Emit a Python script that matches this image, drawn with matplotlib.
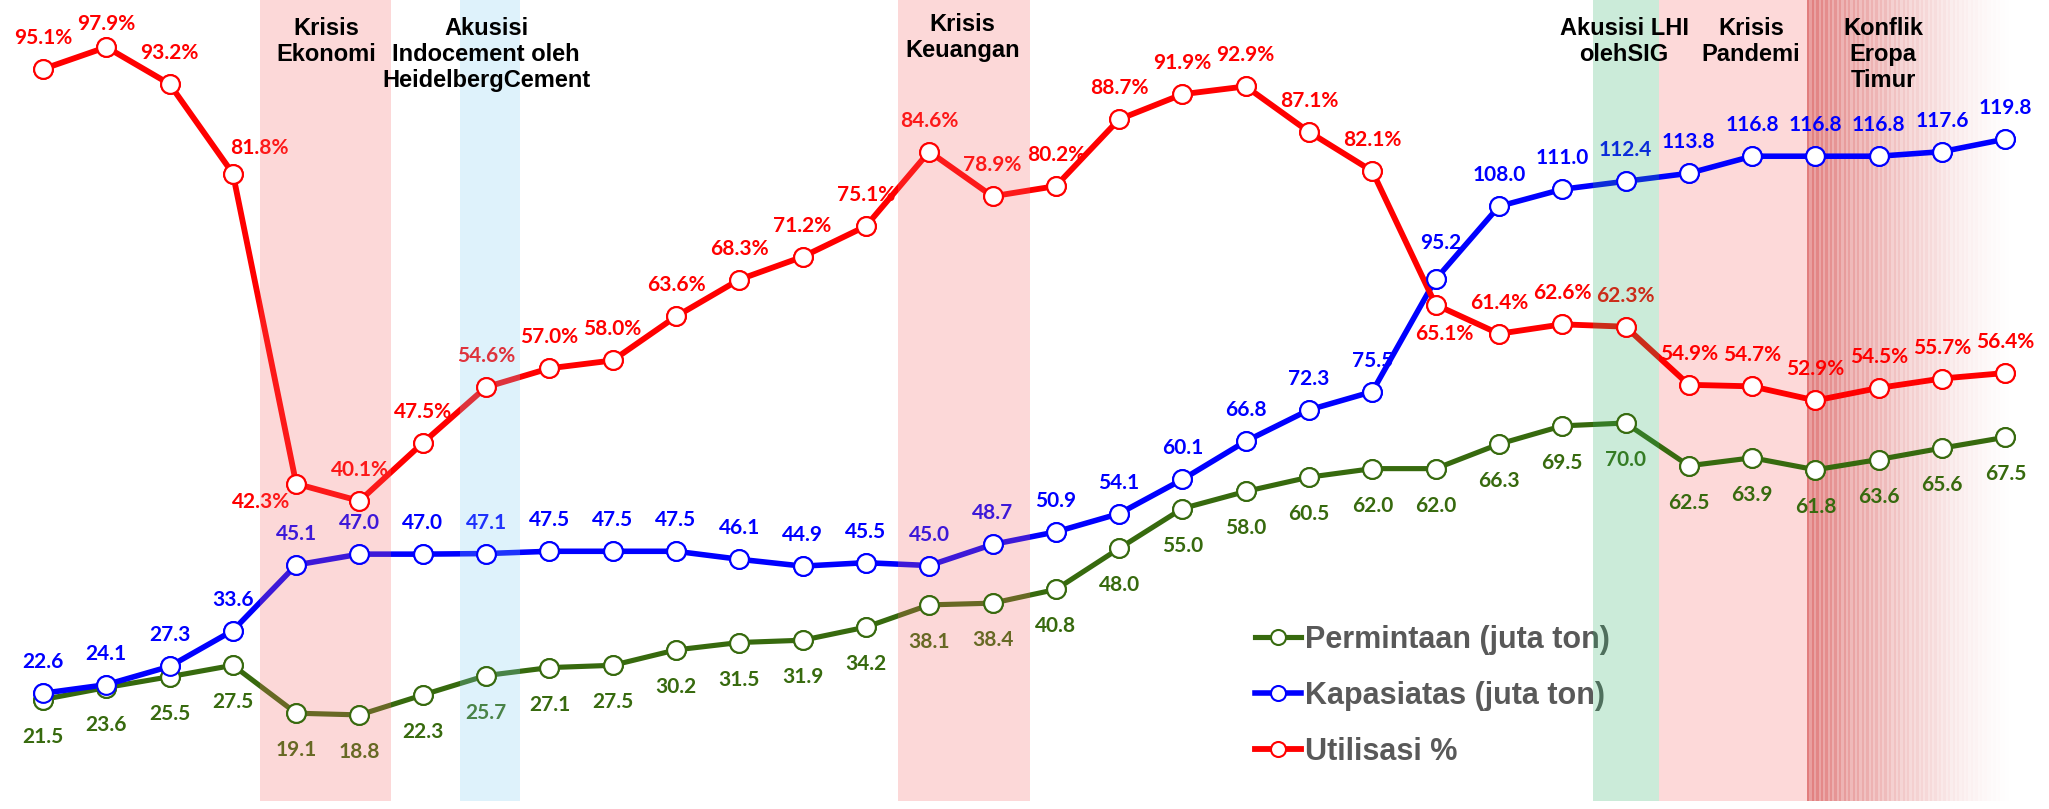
import numpy as np
import matplotlib.pyplot as plt

# data (juta ton / %)
permintaan = [21.5, 23.6, 25.5, 27.5, 19.1, 18.8, 22.3, 25.7, 27.1, 27.5, 30.2, 31.5,
              31.9, 34.2, 38.1, 38.4, 40.8, 48.0, 55.0, 58.0, 60.5, 62.0, 62.0, 66.3,
              69.5, 70.0, 62.5, 63.9, 61.8, 63.6, 65.6, 67.5]
kapasitas = [22.6, 24.1, 27.3, 33.6, 45.1, 47.0, 47.0, 47.1, 47.5, 47.5, 47.5, 46.1,
             44.9, 45.5, 45.0, 48.7, 50.9, 54.1, 60.1, 66.8, 72.3, 75.5, 95.2, 108.0,
             111.0, 112.4, 113.8, 116.8, 116.8, 116.8, 117.6, 119.8]
utilisasi = [95.1, 97.9, 93.2, 81.8, 42.3, 40.1, 47.5, 54.6, 57.0, 58.0, 63.6, 68.3,
             71.2, 75.1, 84.6, 78.9, 80.2, 88.7, 91.9, 92.9, 87.1, 82.1, 65.1, 61.4,
             62.6, 62.3, 54.9, 54.7, 52.9, 54.5, 55.7, 56.4]

# event bands (index units)
band_start = [3.43, 6.58, 13.5, 24.49]
band_end = [5.5, 7.54, 15.6, 25.53]
band_color = ['#f76767', '#7fcff3', '#f76767', '#33b36b']
pandemi = (25.53, 27.87)
konflik = (27.87, 31.1)

event_text = ['Krisis\nEkonomi', 'Akusisi\nIndocement oleh\nHeidelbergCement',
              'Krisis\nKeuangan', 'Akusisi LHI\nolehSIG', 'Krisis\nPandemi',
              'Konflik\nEropa\nTimur']
event_x = [4.47, 7.0, 14.53, 24.98, 26.98, 29.07]
event_top = [0.979, 0.979, 0.984, 0.979, 0.979, 0.979]

GREEN = '#376a0e'
BLUE = '#0000ff'
RED = '#ff0000'
LBL = ['Lato', 'DejaVu Sans']

x = np.arange(len(utilisasi))

fig = plt.figure(figsize=(20.49, 8.09), dpi=100)
ax = fig.add_axes([0, 0.0099, 1, 0.9901])
ax2 = ax.twinx()
ut = ax2.transData

# bands behind the lines
ax.axvspan(*pandemi, color='#fdd9d9', lw=0, zorder=0.5)
n = 90
edges = np.linspace(konflik[0], konflik[1], n + 1)
for j in range(n):
    t = j / n
    a = 0.8 * (1 - t) ** 1.4 * (1.0 if j % 2 == 0 else 0.75)
    ax.axvspan(edges[j], edges[j + 1], color='#da5d5d', alpha=a, lw=0, zorder=0.5)

series = [
    (permintaan, GREEN, 3.7, 'Permintaan (juta ton)', ax.transData),
    (kapasitas, BLUE, 4.0, 'Kapasiatas (juta ton)', ax.transData),
    (utilisasi, RED, 4.2, 'Utilisasi %', ut),
]
for vals, c, lw, name, tr in series:
    ax.plot(x, vals, color=c, lw=lw, marker='o', ms=13.5, mfc='white', mec=c,
            mew=1.5, zorder=2, label=name, transform=tr, solid_joinstyle='round')
    ax.plot(x, vals, ls='none', marker='o', ms=13.5, mfc='white', mec=c,
            mew=1.5, zorder=4, transform=tr)

# translucent bands over the lines
for s, e, c in zip(band_start, band_end, band_color):
    ax.axvspan(s, e, color=c, alpha=0.25, lw=0, zorder=3)

# data labels, offsets in pixels
px = 0.72
util_off = {1: (0, 23), 3: (26, 26), 4: (-35, -18), 22: (9, -29)}
cap_off = {22: (5, 36)}
fs = 15
for i in x:
    dx, dy = util_off.get(i, (0, 31))
    ax.annotate(f'{utilisasi[i]:.1f}%', (i, utilisasi[i]), xycoords=ut,
                xytext=(dx * px, dy * px), textcoords='offset points',
                ha='center', va='center', color=RED, fontsize=fs,
                fontweight='bold', family=LBL, zorder=2)
    dx, dy = cap_off.get(i, (0, 31))
    ax.annotate(f'{kapasitas[i]:.1f}', (i, kapasitas[i]),
                xytext=(dx * px, dy * px), textcoords='offset points',
                ha='center', va='center', color=BLUE, fontsize=fs,
                fontweight='bold', family=LBL, zorder=2)
    ax.annotate(f'{permintaan[i]:.1f}', (i, permintaan[i]),
                xytext=(0, -37 * px), textcoords='offset points',
                ha='center', va='center', color=GREEN, fontsize=fs,
                fontweight='bold', family=LBL, zorder=2)

for t, ex, ey in zip(event_text, event_x, event_top):
    ax.text(ex, ey, t, transform=ax.get_xaxis_transform(), ha='center', va='top',
            fontsize=17, fontweight='bold', family='Liberation Sans',
            linespacing=1.18, zorder=5)

leg = ax.legend(loc='upper left', bbox_to_anchor=(1255 / 2049, 0.2274),
                bbox_transform=fig.transFigure, frameon=False,
                prop={'family': 'Liberation Sans', 'weight': 'bold', 'size': 22},
                labelcolor='#595959', handlelength=1.5, handletextpad=0.15,
                labelspacing=0.85, borderpad=0, borderaxespad=0, markerscale=0.8)
leg.set_zorder(2.5)

ax.set_xlim(-0.679, 31.69)
ax.set_ylim(3.7, 144.2)
ax2.set_ylim(1.9, 103.9)
ax.axis('off')
ax2.axis('off')

fig.savefig('out.png', dpi=100, facecolor='white')
